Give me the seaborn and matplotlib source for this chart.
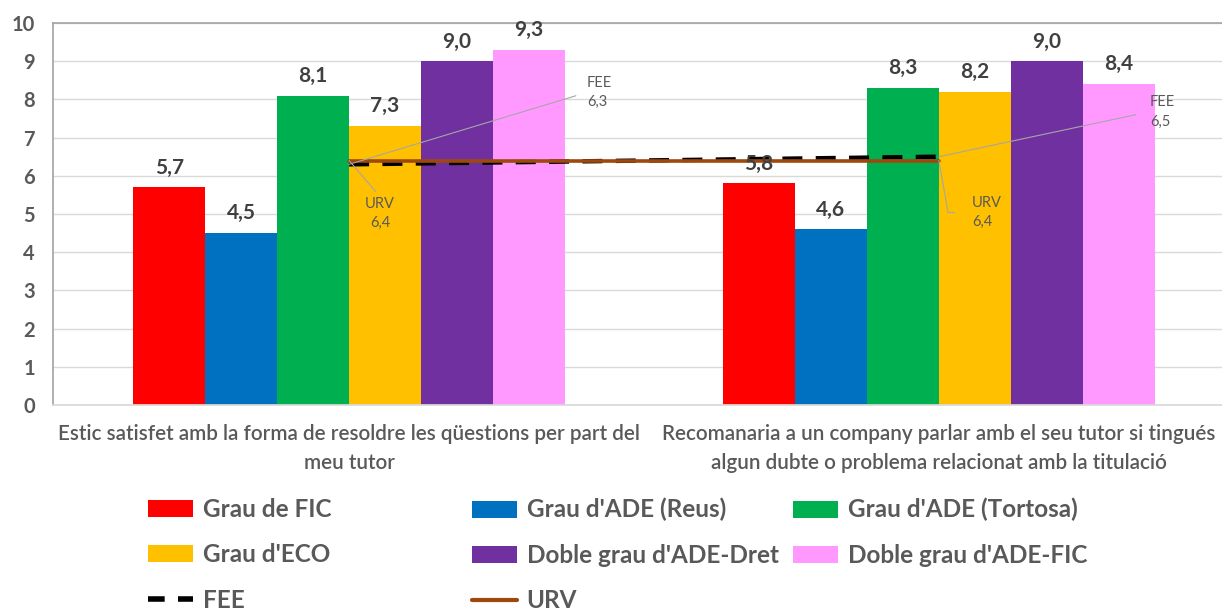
import matplotlib

matplotlib.use("Agg")
import matplotlib.pyplot as plt
import numpy as np
import pandas as pd
import seaborn as sns
from matplotlib.lines import Line2D
from matplotlib.patches import Patch

QUESTIONS = [
    "Estic satisfet amb la forma de resoldre les qüestions per part del\nmeu tutor",
    "Recomanaria a un company parlar amb el seu tutor si tingués\nalgun dubte o problema relacionat amb la titulació",
]
DEGREES = [
    "Grau de FIC",
    "Grau d'ADE (Reus)",
    "Grau d'ADE (Tortosa)",
    "Grau d'ECO",
    "Doble grau d'ADE-Dret",
    "Doble grau d'ADE-FIC",
]
Q1_VALUES = [5.7, 4.5, 8.1, 7.3, 9.0, 9.3]
Q2_VALUES = [5.8, 4.6, 8.3, 8.2, 9.0, 8.4]
FEE = [6.3, 6.5]
URV = [6.4, 6.4]
Y_TICKS = list(range(0, 11))

COLORS = ["#FF0000", "#0070C0", "#00B050", "#FFC000", "#7030A0", "#FF99FF"]
BROWN = "#9E480E"
GREY_TEXT = "#595959"
DARK_TEXT = "#404040"
LEADER = "#A6A6A6"

sns.set_theme(style="white")
plt.rcParams["font.family"] = ["Lato", "DejaVu Sans"]

data = pd.DataFrame(
    {
        "question": np.repeat(QUESTIONS, len(DEGREES)),
        "degree": DEGREES * 2,
        "value": Q1_VALUES + Q2_VALUES,
    }
)

fig = plt.figure(figsize=(12.22, 6.10), dpi=100)
ax = fig.add_axes([53 / 1222, 1 - 405 / 610, 1 - 53 / 1222, (405 - 23) / 610])

sns.barplot(
    data=data,
    x="question",
    y="value",
    hue="degree",
    order=QUESTIONS,
    hue_order=DEGREES,
    palette=dict(zip(DEGREES, COLORS)),
    width=0.732,
    saturation=1,
    linewidth=0,
    legend=False,
    ax=ax,
)
for container in ax.containers:
    ax.bar_label(
        container,
        labels=[f"{v:.1f}".replace(".", ",") for v in container.datavalues],
        padding=7,
        fontsize=15,
        fontweight="bold",
        color=DARK_TEXT,
    )

positions = np.arange(len(QUESTIONS))
sns.lineplot(x=positions, y=FEE, color="black", linewidth=3.2,
             linestyle=(0, (4.5, 3.0)), ax=ax)
sns.lineplot(x=positions, y=URV, color=BROWN, linewidth=2.6, ax=ax)

# leader-line labels for the reference lines
ann = dict(fontsize=10.5, color=GREY_TEXT, linespacing=1.5)
ax.annotate("FEE\n6,3", xy=(positions[0], FEE[0]), xytext=(238, 72),
            textcoords="offset pixels", ha="left", va="center",
            arrowprops=dict(arrowstyle="-", color=LEADER, lw=0.8,
                            relpos=(0, 0.5), shrinkA=6, shrinkB=0), **ann)
ax.annotate("URV\n6,4", xy=(positions[0], URV[0]), xytext=(31, -53),
            textcoords="offset pixels", ha="center", va="center",
            arrowprops=dict(arrowstyle="-", color=LEADER, lw=0.8,
                            relpos=(0.5, 1), shrinkA=2, shrinkB=0), **ann)
ax.annotate("FEE\n6,5", xy=(positions[1], FEE[1]), xytext=(211, 45),
            textcoords="offset pixels", ha="left", va="center",
            arrowprops=dict(arrowstyle="-", color=LEADER, lw=0.8,
                            relpos=(0, 0.5), shrinkA=8, shrinkB=0), **ann)
ax.annotate("URV\n6,4", xy=(positions[1], URV[1]), xytext=(33, -52),
            textcoords="offset pixels", ha="left", va="center",
            arrowprops=dict(arrowstyle="-", color=LEADER, lw=0.8,
                            relpos=(0, 0.5), shrinkA=10, shrinkB=0,
                            connectionstyle="angle,angleA=0,angleB=100,rad=0"),
            **ann)

ax.set_xlim(-0.502, 1.48)
ax.set_ylim(0, 10)
ax.set_yticks(Y_TICKS)
ax.set(xlabel="", ylabel="")
ax.grid(axis="y", color="#D9D9D9", linewidth=1)
ax.set_axisbelow(True)
ax.tick_params(axis="y", length=0, pad=13, labelsize=14.5, labelcolor=GREY_TEXT)
ax.tick_params(axis="x", length=0, pad=14, labelsize=14.9, labelcolor=GREY_TEXT)
for label in ax.get_yticklabels():
    label.set_fontweight("bold")
for label in ax.get_xticklabels():
    label.set_linespacing(1.55)
    label.set_fontweight("semibold")
ax.spines["right"].set_visible(False)
ax.spines["left"].set_color("#A6A6A6")
ax.spines["top"].set_color("#A6A6A6")
ax.spines["bottom"].set_color("#D9D9D9")

# legend: three fixed-width columns as in the source chart
patches = [Patch(facecolor=c, edgecolor="none", label=d) for d, c in zip(DEGREES, COLORS)]
fee_handle = Line2D([], [], color="black", linewidth=4, linestyle=(0, (3.0, 2.4)), label="FEE")
urv_handle = Line2D([], [], color=BROWN, linewidth=3, label="URV")
columns = [
    ([patches[0], patches[3], fee_handle], 148),
    ([patches[1], patches[4], urv_handle], 472),
    ([patches[2], patches[5]], 793),
]
for handles, x0 in columns:
    fig.legend(
        handles=handles,
        loc="upper left",
        bbox_to_anchor=(x0 / 1222, 1 - 498 / 610),
        frameon=False,
        prop={"weight": "bold", "size": 17.5},
        labelcolor=GREY_TEXT,
        handlelength=1.85,
        handleheight=0.7,
        handletextpad=0.4,
        labelspacing=0.92,
        borderpad=0,
        borderaxespad=0,
    )

fig.savefig("out.png", dpi=100)
